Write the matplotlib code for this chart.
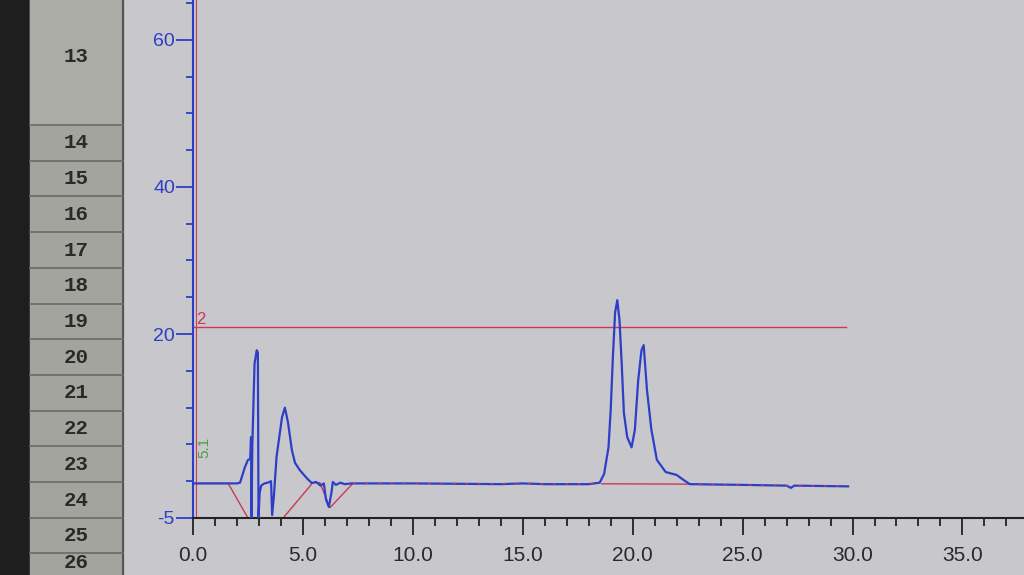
import numpy as np
import matplotlib
matplotlib.use('Agg')
import matplotlib.pyplot as plt
from matplotlib.patches import Rectangle
from matplotlib.ticker import MultipleLocator, FixedLocator, FormatStrFormatter

plt.rcParams['axes.unicode_minus'] = False

# chromatogram trace (time in min, signal)
trace_t = [0.0, 1.0, 2.0, 2.14, 2.36, 2.5, 2.6, 2.64, 2.66, 2.7, 2.8, 2.9, 2.95, 2.98, 3.03,
           3.1, 3.25, 3.4, 3.55, 3.6, 3.68, 3.8, 4.05, 4.18, 4.32, 4.5, 4.64, 4.86, 5.18, 5.4,
           5.6, 5.8, 5.95, 6.05, 6.18, 6.3, 6.36, 6.5, 6.7, 6.9, 7.2, 10.0, 14.0, 15.0, 16.0,
           18.0, 18.5, 18.7, 18.9, 19.0, 19.1, 19.2, 19.3, 19.4, 19.5, 19.6, 19.75, 19.95, 20.1,
           20.25, 20.4, 20.5, 20.65, 20.85, 21.1, 21.5, 22.0, 22.3, 22.6, 25.0, 27.0, 27.2, 27.35,
           29.8]
trace_v = [-0.3, -0.3, -0.3, -0.2, 1.9, 2.9, 3.0, 6.0, -5.0, 5.0, 16.0, 17.8, 17.5, -5.0, -1.6,
           -0.6, -0.3, -0.2, 0.0, -4.6, -2.0, 3.3, 8.7, 10.0, 8.0, 4.2, 2.5, 1.5, 0.4, -0.25,
           -0.1, -0.6, -0.3, -2.5, -3.5, -1.5, -0.1, -0.5, -0.2, -0.4, -0.3, -0.3, -0.4, -0.3, -0.4,
           -0.4, -0.2, 1.0, 4.6, 9.7, 16.9, 22.9, 24.6, 21.9, 16.0, 9.3, 6.0, 4.6, 7.0,
           13.7, 17.8, 18.5, 12.4, 7.0, 2.9, 1.25, 0.85, 0.2, -0.4, -0.5, -0.6, -0.9, -0.6,
           -0.7]

# integration baselines (nan = break)
base_t = [0.0, 1.6, 2.5, np.nan, 4.1, 5.45, 5.77, 6.23, 7.27, np.nan, 18.6, 23.0]
base_v = [-0.3, -0.3, -5.0, np.nan, -5.0, -0.2, -0.2, -3.6, -0.3, np.nan, -0.35, -0.4]
dash_t = [7.27, 18.6, np.nan, 23.0, 29.8]
dash_v = [-0.3, -0.35, np.nan, -0.45, -0.7]

level_y = 20.9
level_end = 29.7
level_label = "2"

y_major = [-5, 20, 40, 60]
rows = ["13", "14", "15", "16", "17", "18", "19", "20", "21", "22", "23", "24", "25", "26"]

BLUE = '#2d3fc8'
RED = '#c83a55'
BG = '#c8c7cb'

fig = plt.figure(figsize=(10.24, 5.75), dpi=100)
fig.patch.set_facecolor(BG)

# spreadsheet row header on the left, in pixel coords
bg = fig.add_axes([0, 0, 1, 1], zorder=0)
bg.set_xlim(0, 1024)
bg.set_ylim(575, 0)
bg.axis('off')
bg.add_patch(Rectangle((0, 0), 30, 575, color='#1e1e1e'))
bg.add_patch(Rectangle((30, 0), 93, 575, color='#a4a49f'))
bg.add_patch(Rectangle((30, 0), 93, 125, color='#acaca6'))
bg.plot([123, 123], [0, 575], color='#555555', lw=1.5)
edges = [125 + 35.7 * i for i in range(13)]
for e in edges:
    bg.plot([30, 123], [e, e], color='#6a6a6a', lw=1.2)
for i, r in enumerate(rows):
    cy = 57 if i == 0 else 125 + 35.7 * (i - 1) + 18
    cy = min(cy, 563)
    bg.text(76, cy, r, ha='center', va='center', fontsize=15, fontweight='bold',
            family='Liberation Mono', color='#2a2a2a')

ax = fig.add_axes([193 / 1024, 57 / 575, 831 / 1024, 518 / 575], zorder=1)
ax.set_facecolor(BG)
ax.set_xlim(0, 37.8)
ax.set_ylim(-5, 65.4)

ax.plot(base_t, base_v, color=RED, lw=1.0, zorder=2)
ax.plot(trace_t, trace_v, color=BLUE, lw=1.6, zorder=3)
ax.plot(dash_t, dash_v, color=RED, lw=1.0, ls=(0, (2, 7)), zorder=4)
ax.plot([0, level_end], [level_y, level_y], color=RED, lw=1.0, zorder=2)
ax.axvline(0.12, color=RED, lw=0.8, zorder=2)
ax.text(0.15, level_y + 0.4, level_label, color=RED, fontsize=12, family='Liberation Sans')
ax.text(0.2, 3.5, "5.1", color='#4aa040', fontsize=11, rotation=90, family='Liberation Sans')

for s in ['top', 'right']:
    ax.spines[s].set_visible(False)
ax.spines['left'].set_color(BLUE)
ax.spines['left'].set_linewidth(1.5)
ax.spines['bottom'].set_color('#222222')
ax.spines['bottom'].set_linewidth(1.5)

ax.yaxis.set_major_locator(FixedLocator(y_major))
ax.yaxis.set_minor_locator(MultipleLocator(5))
ax.xaxis.set_major_locator(MultipleLocator(5))
ax.xaxis.set_minor_locator(MultipleLocator(1))
ax.xaxis.set_major_formatter(FormatStrFormatter('%.1f'))

ax.tick_params(axis='y', which='major', length=12, width=1.3, color=BLUE,
               labelcolor=BLUE, labelsize=14, pad=1)
ax.tick_params(axis='y', which='minor', length=5, width=1.3, color=BLUE)
ax.tick_params(axis='x', which='major', length=12, width=1.3, color='#222222',
               labelcolor='#2a2a2a', labelsize=15, pad=8)
ax.tick_params(axis='x', which='minor', length=6, width=1.3, color='#222222')
for lab in ax.get_xticklabels() + ax.get_yticklabels():
    lab.set_family('Liberation Sans')

fig.savefig('out.png', dpi=100, facecolor=fig.get_facecolor())
